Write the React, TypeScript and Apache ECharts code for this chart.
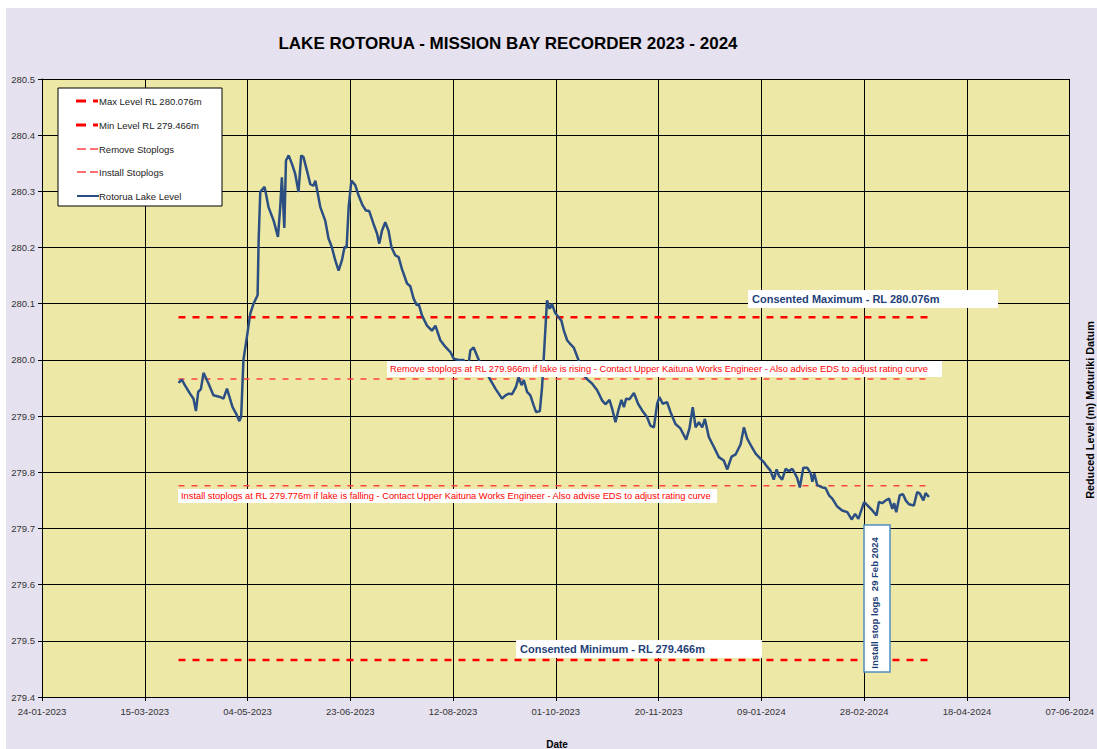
import React, { useEffect, useRef } from "react";
import * as echarts from "echarts";

// Day 0 = 24-01-2023 (x axis minimum); one unit = one day
const BASE_DATE = Date.UTC(2023, 0, 24);
const xTickMin = 0;
const xTickMax = 500;
const xTickStep = 50;
const yMin = 279.4;
const yMax = 280.5;
const yStep = 0.1;

const TITLE = "LAKE ROTORUA - MISSION BAY RECORDER 2023 - 2024";
const X_NAME = "Date";
const Y_NAME = "Reduced Level (m) Moturiki Datum";

const refStartDay = 66.4;
const refEndDay = 433.2;
const maxLevel = 280.076;
const minLevel = 279.466;
const removeLevel = 279.966;
const installLevel = 279.776;

const legendLabels = [
  "Max Level RL 280.076m",
  "Min Level RL 279.466m",
  "Remove Stoplogs",
  "Install Stoplogs",
  "Rotorua Lake Level",
];

const noteMax = "Consented Maximum - RL 280.076m";
const noteMin = "Consented Minimum - RL 279.466m";
const noteRemove =
  "Remove stoplogs at RL 279.966m if lake is rising - Contact Upper Kaituna Works Engineer - Also advise EDS to adjust rating curve";
const noteInstall =
  "Install stoplogs at RL 279.776m if lake is falling - Contact Upper Kaituna Works Engineer - Also advise EDS to adjust rating curve";
const noteStop = "Install stop logs  29 Feb 2024";

const lakeDays = [
  66.4, 68, 69.5, 72, 73.7, 74.9, 76, 77.3, 78.6, 81, 83.4, 86.7, 88.3, 90, 91.2, 92.7, 94.5, 96, 96.9, 98,
  99.7, 101.3, 102.9, 104.9, 105.4, 106.2, 108.3, 110.2, 112.7, 114.8, 115.9, 116.7, 117.9, 118.7, 120, 121.6,
  123.2, 124.8, 126.1, 127.2, 128.9, 130.5, 132.1, 133, 135.4, 137.8, 139.4, 141, 142.7, 144.3, 145.9, 147.2,
  148.2, 149.2, 150.5, 152.4, 154, 156, 157.6, 159.2, 161.3, 163, 164.1, 165.4, 167, 168.6, 170, 171.9, 173.5,
  175.1, 177.6, 179.2, 180.8, 182.4, 183.2, 184.9, 187.3, 189.7, 191.4, 193.8, 196.3, 198.7, 200.3, 202.7,
  205.2, 206.8, 208.4, 210, 211.6, 213.3, 215.7, 218.2, 220.6, 222.2, 223.8, 225.5, 227.1, 228.7, 230.6, 231.9,
  233.3, 234.4, 236, 237.6, 239.2, 240.4, 242.2, 243.3, 244.6, 245.7, 247, 248.1, 249.5, 251.1, 252.7, 253.9,
  255.5, 257.1, 258.7, 261.2, 263.6, 265.7, 267.6, 270.1, 272.5, 274.1, 276.1, 277.4, 279, 280.6, 281.9, 283.1,
  284.2, 285.8, 288, 290, 292, 294.4, 296, 297.7, 299.3, 300.4, 302, 304.1, 305.8, 308.2, 310.6, 313.4, 315,
  316.6, 318, 319.6, 321.2, 322.5, 324.4, 326.9, 329.3, 331.7, 333.4, 335.5, 337.5, 339.9, 341.5, 343.1, 345.3,
  347.2, 349.6, 351.2, 352.8, 354.4, 356, 357.4, 358.5, 360.1, 361.8, 363.4, 365, 366, 367.4, 368.7, 370.4,
  372.3, 374, 374.8, 375.7, 377.2, 379.6, 381.2, 382.9, 384.5, 386.9, 389.3, 391.8, 393.9, 395.6, 397.2, 398.3,
  400, 401.6, 404, 406, 407.2, 408.8, 410.5, 412.1, 413.7, 414.6, 415.6, 417.3, 418.9, 420.2, 421.8, 424.2,
  425.8, 427.1, 428.8, 429.9, 431.5,
];

const lakeLevels = [
  279.959, 279.965, 279.955, 279.94, 279.931, 279.909, 279.943, 279.948, 279.977, 279.958, 279.937, 279.934,
  279.931, 279.949, 279.934, 279.916, 279.904, 279.891, 279.899, 280.0, 280.041, 280.082, 280.1, 280.115,
  280.213, 280.299, 280.308, 280.272, 280.248, 280.219, 280.272, 280.325, 280.235, 280.355, 280.364, 280.349,
  280.331, 280.299, 280.364, 280.361, 280.337, 280.313, 280.31, 280.319, 280.272, 280.248, 280.216, 280.201,
  280.177, 280.159, 280.177, 280.201, 280.2, 280.272, 280.319, 280.311, 280.293, 280.275, 280.266, 280.265,
  280.242, 280.225, 280.207, 280.23, 280.245, 280.23, 280.201, 280.186, 280.183, 280.162, 280.136, 280.131,
  280.109, 280.097, 280.1, 280.079, 280.061, 280.052, 280.061, 280.035, 280.023, 280.014, 280.002, 280.0,
  280.0, 279.972, 280.017, 280.022, 280.008, 279.993, 279.981, 279.964, 279.949, 279.94, 279.931, 279.937,
  279.94, 279.939, 279.952, 279.969, 279.955, 279.964, 279.943, 279.937, 279.919, 279.907, 279.909, 279.952,
  280.035, 280.106, 280.091, 280.1, 280.085, 280.077, 280.07, 280.052, 280.035, 280.028, 280.022, 279.998,
  279.972, 279.964, 279.958, 279.946, 279.928, 279.921, 279.929, 279.913, 279.889, 279.913, 279.929, 279.916,
  279.931, 279.93, 279.941, 279.922, 279.91, 279.898, 279.883, 279.88, 279.922, 279.934, 279.922, 279.925,
  279.907, 279.886, 279.878, 279.858, 279.878, 279.916, 279.88, 279.889, 279.88, 279.895, 279.863, 279.845,
  279.827, 279.821, 279.805, 279.828, 279.832, 279.85, 279.88, 279.86, 279.845, 279.833, 279.824, 279.818,
  279.81, 279.803, 279.787, 279.805, 279.794, 279.787, 279.806, 279.802, 279.806, 279.8, 279.79, 279.773,
  279.808, 279.808, 279.798, 279.783, 279.798, 279.777, 279.773, 279.772, 279.759, 279.753, 279.739, 279.732,
  279.729, 279.716, 279.726, 279.717, 279.729, 279.747, 279.741, 279.732, 279.723, 279.747, 279.745, 279.75,
  279.753, 279.735, 279.745, 279.729, 279.759, 279.761, 279.75, 279.743, 279.741, 279.765, 279.762, 279.75,
  279.763, 279.756,
];

const FONT = '"Liberation Sans", Arial, sans-serif';
const RED = "#FF0000";
const LIGHT_RED = "#FF4040";
const BLUE = "#2B4F82";
const NOTE_BLUE = "#1F3F78";

function fmtDay(v: number): string {
  const d = new Date(BASE_DATE + Math.round(v) * 86400000);
  const dd = String(d.getUTCDate()).padStart(2, "0");
  const mm = String(d.getUTCMonth() + 1).padStart(2, "0");
  return `${dd}-${mm}-${d.getUTCFullYear()}`;
}

function refLine(name: string, level: number, color: string, width: number, dash: number[]) {
  return {
    name,
    type: "line",
    data: [
      [refStartDay, level],
      [refEndDay, level],
    ],
    symbol: "none",
    silent: true,
    z: 2,
    lineStyle: { color, width, type: dash },
  };
}

function noteBox(x: number, y: number, w: number, h: number, text: string, font: string, color: string, tx: number) {
  return [
    { type: "rect", z: 100, shape: { x, y, width: w, height: h }, style: { fill: "#FFFFFF" } },
    {
      type: "text",
      z: 101,
      x: tx,
      y: y + h / 2,
      style: { text, font, fill: color, textAlign: "left", textVerticalAlign: "middle" },
    },
  ];
}

export default function App() {
  const ref = useRef<HTMLDivElement>(null);

  useEffect(() => {
    if (!ref.current) return;
    const chart = echarts.init(ref.current, null, { renderer: "svg" });

    const legendYs = [93, 117, 141, 164, 188];
    const legendGraphics: any[] = [
      {
        type: "rect",
        z: 100,
        shape: { x: 52, y: 80, width: 164, height: 118 },
        style: { fill: "#FFFFFF", stroke: "#000000", lineWidth: 1 },
      },
    ];
    legendLabels.forEach((label, i) => {
      const y = legendYs[i];
      if (i < 2) {
        legendGraphics.push(
          { type: "line", z: 101, shape: { x1: 70, y1: y, x2: 80, y2: y }, style: { stroke: RED, lineWidth: 3 } },
          { type: "line", z: 101, shape: { x1: 87, y1: y, x2: 92, y2: y }, style: { stroke: RED, lineWidth: 3 } }
        );
      } else if (i < 4) {
        legendGraphics.push(
          { type: "line", z: 101, shape: { x1: 71, y1: y, x2: 80, y2: y }, style: { stroke: LIGHT_RED, lineWidth: 1.5 } },
          { type: "line", z: 101, shape: { x1: 84, y1: y, x2: 92, y2: y }, style: { stroke: LIGHT_RED, lineWidth: 1.5 } }
        );
      } else {
        legendGraphics.push({
          type: "line",
          z: 101,
          shape: { x1: 71, y1: y, x2: 93, y2: y },
          style: { stroke: BLUE, lineWidth: 2 },
        });
      }
      legendGraphics.push({
        type: "text",
        z: 101,
        x: 93,
        y,
        style: { text: label, font: `9.5px ${FONT}`, fill: "#222222", textAlign: "left", textVerticalAlign: "middle" },
      });
    });

    const option: any = {
      animation: false,
      backgroundColor: "#E6E1EE",
      grid: { left: 36, top: 71, right: 25, bottom: 52, show: true, backgroundColor: "#EEE8A6", borderWidth: 0 },
      xAxis: {
        type: "value",
        min: xTickMin,
        max: xTickMax,
        interval: xTickStep,
        axisLine: { show: true, lineStyle: { color: "#000000", width: 1 } },
        axisTick: { show: true, length: 4, lineStyle: { color: "#000000" } },
        splitLine: { show: true, lineStyle: { color: "#000000", width: 1 } },
        axisLabel: { formatter: fmtDay, color: "#333333", fontSize: 9.5, fontFamily: FONT, margin: 9 },
      },
      yAxis: {
        type: "value",
        min: yMin,
        max: yMax,
        interval: yStep,
        axisLine: { show: true, lineStyle: { color: "#000000", width: 1 } },
        axisTick: { show: true, length: 4, lineStyle: { color: "#000000" } },
        splitLine: { show: true, lineStyle: { color: "#000000", width: 1 } },
        axisLabel: {
          formatter: (v: number) => v.toFixed(1),
          color: "#333333",
          fontSize: 9.5,
          fontFamily: FONT,
          margin: 7,
        },
      },
      series: [
        refLine(legendLabels[0], maxLevel, RED, 2.5, [7, 7]),
        refLine(legendLabels[1], minLevel, RED, 2.5, [7, 7]),
        refLine(legendLabels[2], removeLevel, LIGHT_RED, 1.5, [6, 7]),
        refLine(legendLabels[3], installLevel, LIGHT_RED, 1.5, [6, 7]),
        {
          name: legendLabels[4],
          type: "line",
          data: lakeDays.map((d, i) => [d, lakeLevels[i]]),
          symbol: "none",
          z: 3,
          lineStyle: { color: BLUE, width: 2.5 },
        },
      ],
      graphic: [
        {
          type: "text",
          z: 100,
          x: 502,
          y: 35,
          style: { text: TITLE, font: `bold 17px ${FONT}`, fill: "#000000", textAlign: "center", textVerticalAlign: "middle" },
        },
        {
          type: "text",
          z: 100,
          x: 551,
          y: 736,
          style: { text: X_NAME, font: `bold 10px ${FONT}`, fill: "#000000", textAlign: "center", textVerticalAlign: "middle" },
        },
        {
          type: "text",
          z: 100,
          x: 1084,
          y: 402,
          rotation: Math.PI / 2,
          style: { text: Y_NAME, font: `bold 10.8px ${FONT}`, fill: "#000000", textAlign: "center", textVerticalAlign: "middle" },
        },
        ...noteBox(742, 282, 250, 18, noteMax, `bold 11px ${FONT}`, NOTE_BLUE, 746),
        ...noteBox(510, 632, 246, 18, noteMin, `bold 11px ${FONT}`, NOTE_BLUE, 514),
        ...noteBox(381, 353, 555, 16, noteRemove, `9.3px ${FONT}`, RED, 384),
        ...noteBox(172, 481, 539, 14, noteInstall, `9.3px ${FONT}`, RED, 175),
        {
          type: "rect",
          z: 100,
          shape: { x: 858, y: 517, width: 26, height: 147 },
          style: { fill: "#FFFFFF", stroke: "#4F8FC0", lineWidth: 1.5 },
        },
        {
          type: "text",
          z: 101,
          x: 868,
          y: 595,
          rotation: Math.PI / 2,
          style: { text: noteStop, font: `bold 9.5px ${FONT}`, fill: NOTE_BLUE, textAlign: "center", textVerticalAlign: "middle" },
        },
        ...legendGraphics,
      ],
    };

    chart.setOption(option);
    return () => chart.dispose();
  }, []);

  return (
    <div
      ref={ref}
      style={{ position: "absolute", left: 6, top: 8, width: 1091, height: 741 }}
    />
  );
}
